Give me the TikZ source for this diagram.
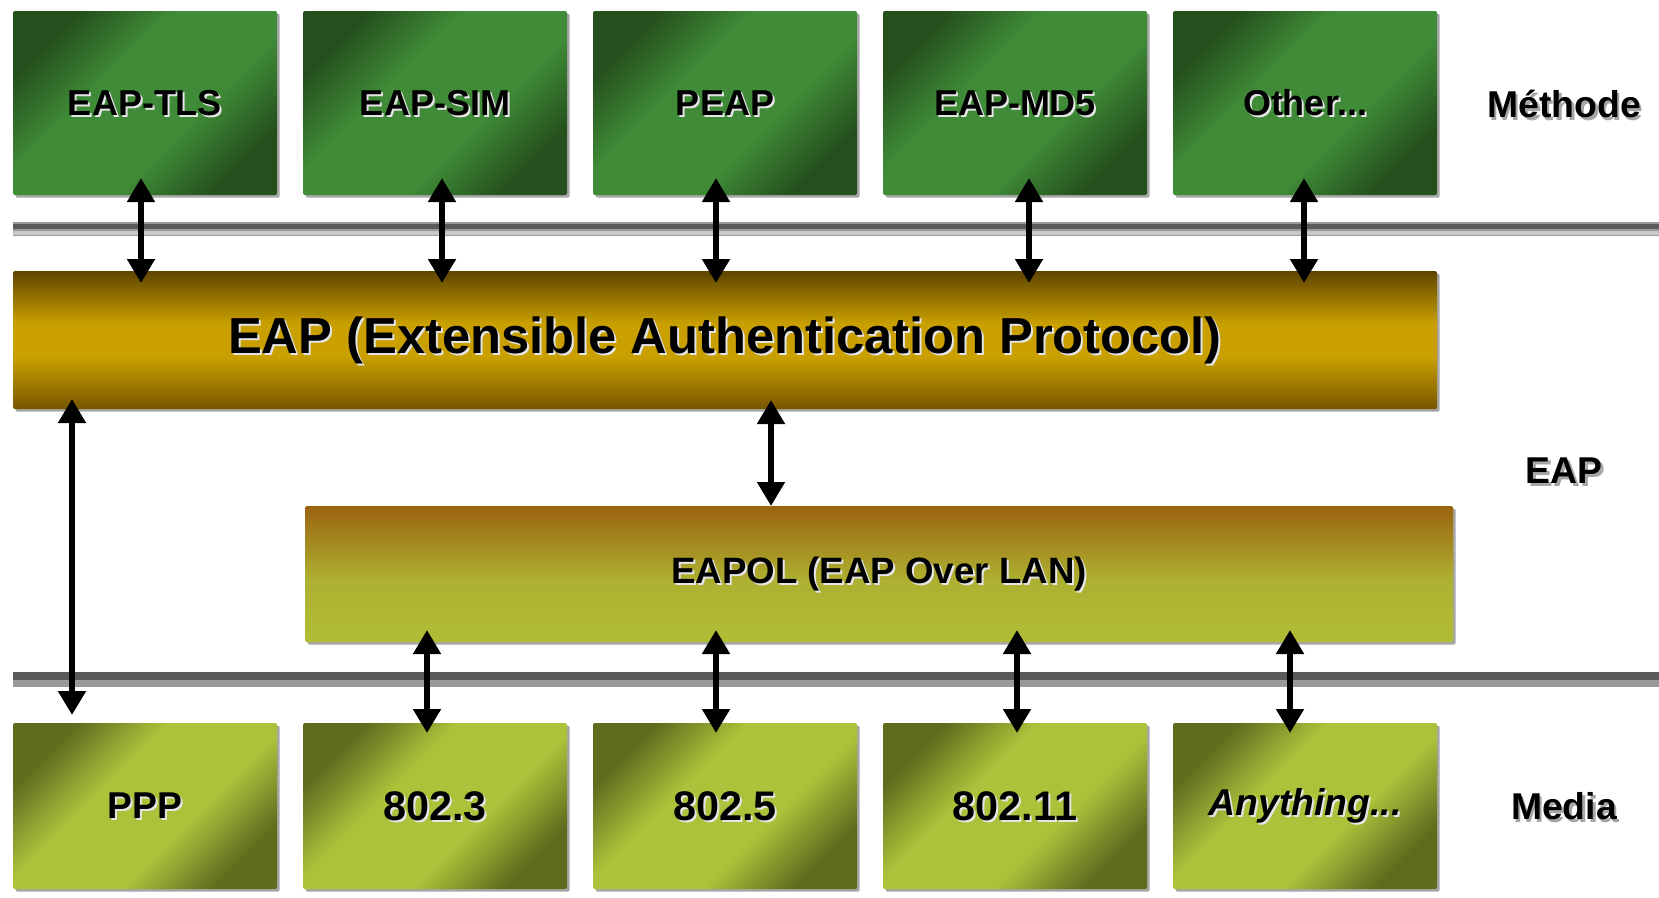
\documentclass[tikz,border=0pt]{standalone}
\usepackage{fontspec}
\setmainfont{Liberation Sans}
\usetikzlibrary{arrows.meta,shadows}

% palette
\definecolor{gDark}{HTML}{25501D}
\definecolor{gLight}{HTML}{3F8B37}
\definecolor{oDark}{HTML}{5E6C1E}
\definecolor{oLight}{HTML}{ADC13A}
\definecolor{eTop}{HTML}{5E4400}
\definecolor{eMid}{HTML}{C9A000}
\definecolor{eBot}{HTML}{785600}
\definecolor{lTop}{HTML}{9B6410}
\definecolor{lBot}{HTML}{B1BD36}
\definecolor{railDark}{HTML}{5A5A5A}
\definecolor{railMid}{HTML}{9A9A9A}
\definecolor{railLight}{HTML}{C8C8C8}

% diagonal shadings: dark corners, light band across the middle
\pgfdeclareverticalshading{methshade}{100bp}{color(0bp)=(gDark); color(25bp)=(gDark);
  color(40bp)=(gLight); color(60bp)=(gLight); color(75bp)=(gDark); color(100bp)=(gDark)}
\pgfdeclareverticalshading{mediashade}{100bp}{color(0bp)=(oDark); color(25bp)=(oDark);
  color(40bp)=(oLight); color(60bp)=(oLight); color(75bp)=(oDark); color(100bp)=(oDark)}
% horizontal bars: vertical gradients
\pgfdeclareverticalshading{eapshade}{100bp}{color(0bp)=(eBot); color(25bp)=(eBot);
  color(44bp)=(eMid); color(56bp)=(eMid); color(75bp)=(eTop); color(100bp)=(eTop)}
\pgfdeclareverticalshading{eapolshade}{100bp}{color(0bp)=(lBot); color(25bp)=(lBot);
  color(48bp)=(lBot!85!lTop); color(75bp)=(lTop); color(100bp)=(lTop)}

% text with a light offset copy behind it
\newcommand\lift[1]{\rlap{\hspace{1.5pt}\raisebox{-1.5pt}[0pt][0pt]{\color{white!80!gray}#1}}#1}
\newcommand\haze[1]{\rlap{\hspace{2pt}\raisebox{-2pt}[0pt][0pt]{\color{black!35}#1}}#1}

\begin{document}
\begin{tikzpicture}[x=0.75pt,y=-0.75pt,
  every node/.style={inner sep=0pt,outer sep=0pt},
  boxshadow/.style={drop shadow={shadow xshift=2pt,shadow yshift=-2pt,fill=black,opacity=0.35}},
  meth/.style={rectangle,rounded corners=1.5pt,minimum width=198pt,minimum height=138pt,
    shade,shading=methshade,shading angle=45,boxshadow,
    font=\fontsize{27}{30}\selectfont\bfseries},
  media/.style={rectangle,rounded corners=1.5pt,minimum width=198pt,minimum height=124.5pt,
    shade,shading=mediashade,shading angle=45,boxshadow,
    font=\fontsize{28}{30}\selectfont\bfseries},
  bar/.style={rectangle,rounded corners=1.5pt,boxshadow,shade},
  sidelabel/.style={font=\fontsize{28}{30}\selectfont\bfseries},
  dbl/.style={line width=4.5pt,
    {Triangle[width=20pt,length=18pt]}-{Triangle[width=20pt,length=18pt]}}
]
\useasboundingbox (0,0) rectangle (1659,897);

% separator rails
\fill[railMid]   (13,222) rectangle (1659,236);
\fill[railDark]  (13,224) rectangle (1659,229);
\fill[railLight] (13,231) rectangle (1659,235);
\fill[railMid]   (13,672) rectangle (1659,687);
\fill[railDark]  (13,672) rectangle (1659,680);

% method layer
\node[meth] (m1) at (145,103)  {\lift{EAP-TLS}};
\node[meth] (m2) at (435,103)  {\lift{EAP-SIM}};
\node[meth] (m3) at (725,103)  {\lift{PEAP}};
\node[meth] (m4) at (1015,103) {\lift{EAP-MD5}};
\node[meth] (m5) at (1305,103) {\lift{Other...}};

% EAP layer
\node[bar,shading=eapshade,minimum width=1068pt,minimum height=103.5pt,
  font=\fontsize{38}{40}\selectfont\bfseries] (eap) at (725,340)
  {\lift{EAP (Extensible Authentication Protocol)}};
\node[bar,shading=eapolshade,minimum width=861pt,minimum height=102pt,
  font=\fontsize{27.5}{30}\selectfont\bfseries] (eapol) at (879,574)
  {\lift{EAPOL (EAP Over LAN)}};

% media layer
\node[media] (d1) at (145,806)  {\lift{PPP}};
\node[media,font=\fontsize{31}{33}\selectfont\bfseries] (d2) at (435,806)  {\lift{802.3}};
\node[media,font=\fontsize{31}{33}\selectfont\bfseries] (d3) at (725,806)  {\lift{802.5}};
\node[media,font=\fontsize{31}{33}\selectfont\bfseries] (d4) at (1015,806) {\lift{802.11}};
\node[media,font=\fontsize{28}{30}\selectfont\bfseries\itshape] (d5) at (1305,806) {\lift{Anything...}};

% layer names
\node[sidelabel] (lm) at (1564,104) {\haze{Méthode}};
\node[sidelabel] (le) at (1564,471) {\haze{EAP}};
\node[sidelabel] (ld) at (1564,806) {\haze{Media}};

% methods <-> EAP
\draw[dbl,shorten <=-12.75pt,shorten >=-9pt] ([xshift=-3pt]m1.south) -- ([xshift=-3pt]m1.south |- eap.north);
\draw[dbl,shorten <=-12.75pt,shorten >=-9pt] ([xshift=5.25pt]m2.south) -- ([xshift=5.25pt]m2.south |- eap.north);
\draw[dbl,shorten <=-12.75pt,shorten >=-9pt] ([xshift=-6.75pt]m3.south) -- ([xshift=-6.75pt]m3.south |- eap.north);
\draw[dbl,shorten <=-12.75pt,shorten >=-9pt] ([xshift=10.5pt]m4.south) -- ([xshift=10.5pt]m4.south |- eap.north);
\draw[dbl,shorten <=-12.75pt,shorten >=-9pt] ([xshift=-0.75pt]m5.south) -- ([xshift=-0.75pt]m5.south |- eap.north);

% EAP <-> EAPOL and EAP <-> PPP
\draw[dbl,shorten <=-6.75pt] ([xshift=34.5pt]eap.south) -- ([xshift=34.5pt]eap.south |- eapol.north);
\draw[dbl,shorten <=-7.5pt,shorten >=6pt] ([xshift=-54.75pt]d1.north |- eap.south) -- ([xshift=-54.75pt]d1.north);

% EAPOL <-> media
\draw[dbl,shorten <=-9pt,shorten >=-7.5pt] ([xshift=-6pt]d2.north |- eapol.south) -- ([xshift=-6pt]d2.north);
\draw[dbl,shorten <=-9pt,shorten >=-7.5pt] ([xshift=-6.75pt]d3.north |- eapol.south) -- ([xshift=-6.75pt]d3.north);
\draw[dbl,shorten <=-9pt,shorten >=-7.5pt] ([xshift=1.5pt]d4.north |- eapol.south) -- ([xshift=1.5pt]d4.north);
\draw[dbl,shorten <=-9pt,shorten >=-7.5pt] ([xshift=-11.25pt]d5.north |- eapol.south) -- ([xshift=-11.25pt]d5.north);
\end{tikzpicture}
\end{document}
